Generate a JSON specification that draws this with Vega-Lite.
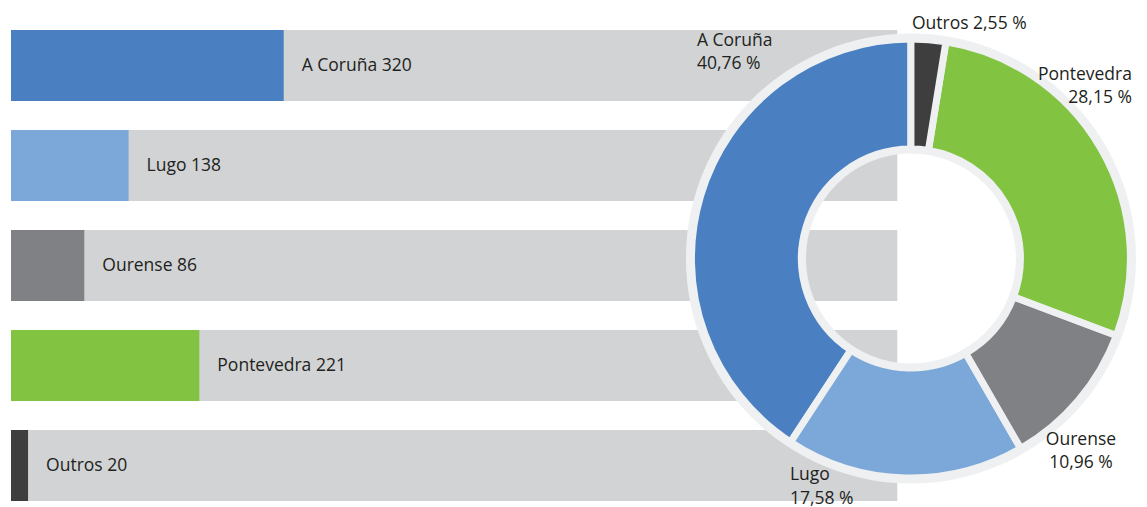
{
  "$schema": "https://vega.github.io/schema/vega-lite/v6.json",
  "width": 1136,
  "height": 471,
  "padding": {"left": 11, "top": 30, "right": 0, "bottom": 6},
  "autosize": {"type": "none"},
  "background": "white",
  "config": {"view": {"stroke": null}, "font": "Open Sans", "text": {"font": "Open Sans", "fontSize": 17.5, "color": "#231f20"}},
  "datasets": {
    "provincias": [
      {"provincia": "A Coruña", "valor": 320, "pct": "40,76 %", "ordem": 5},
      {"provincia": "Lugo", "valor": 138, "pct": "17,58 %", "ordem": 4},
      {"provincia": "Ourense", "valor": 86, "pct": "10,96 %", "ordem": 3},
      {"provincia": "Pontevedra", "valor": 221, "pct": "28,15 %", "ordem": 2},
      {"provincia": "Outros", "valor": 20, "pct": "2,55 %", "ordem": 1}
    ],
    "aro": [{"aro": "fondo"}]
  },
  "data": {"name": "provincias"},
  "layer": [
    {
      "mark": {"type": "bar", "color": "#d1d3d4"},
      "encoding": {
        "x": {"datum": 0, "type": "quantitative", "scale": {"domain": [0, 1333], "nice": false, "zero": true}, "axis": null},
        "x2": {"datum": 1040},
        "y": {"field": "provincia", "type": "nominal", "sort": null, "scale": {"domain": ["A Coruña", "Lugo", "Ourense", "Pontevedra", "Outros"], "paddingInner": 0.29, "paddingOuter": 0}, "axis": null}
      }
    },
    {
      "mark": {"type": "bar"},
      "encoding": {
        "x": {"field": "valor", "type": "quantitative"},
        "y": {"field": "provincia", "type": "nominal", "sort": null},
        "color": {"field": "provincia", "type": "nominal", "scale": {"domain": ["A Coruña", "Lugo", "Ourense", "Pontevedra", "Outros"], "range": ["#4a80c1", "#7ca8d9", "#808184", "#82c341", "#3e3e3e"]}, "legend": null}
      }
    },
    {
      "transform": [{"calculate": "datum.provincia + ' ' + datum.valor", "as": "rotulo"}],
      "mark": {"type": "text", "align": "left", "baseline": "middle", "dx": 18},
      "encoding": {
        "x": {"field": "valor", "type": "quantitative"},
        "y": {"field": "provincia", "type": "nominal", "sort": null},
        "text": {"field": "rotulo"}
      }
    },
    {
      "data": {"name": "aro"},
      "mark": {"type": "arc", "theta": 0, "theta2": 6.2832, "innerRadius": 105, "outerRadius": 225, "fill": "#eef0f2", "yOffset": -7},
      "encoding": {
        "x": {"datum": 1056, "type": "quantitative"},
        "y": {"datum": "Ourense", "type": "nominal"}
      }
    },
    {
      "mark": {"type": "arc", "innerRadius": 109.5, "outerRadius": 219.5, "stroke": "#eef0f2", "strokeWidth": 7, "yOffset": -7},
      "encoding": {
        "x": {"datum": 1056, "type": "quantitative"},
        "y": {"datum": "Ourense", "type": "nominal"},
        "theta": {"field": "valor", "type": "quantitative", "stack": true},
        "order": {"field": "ordem", "type": "quantitative", "sort": "ascending"},
        "color": {"field": "provincia", "type": "nominal"}
      }
    },
    {
      "transform": [{"filter": "datum.provincia === 'Outros'"}, {"calculate": "datum.provincia + ' ' + datum.pct", "as": "rotulo"}],
      "mark": {"type": "text", "align": "left", "baseline": "middle", "dx": 1, "dy": -241.5},
      "encoding": {"x": {"datum": 1056, "type": "quantitative"}, "y": {"datum": "Ourense", "type": "nominal"}, "text": {"field": "rotulo"}}
    },
    {
      "transform": [{"filter": "datum.provincia === 'A Coruña'"}, {"calculate": "[datum.provincia, datum.pct]", "as": "rotulo"}],
      "mark": {"type": "text", "align": "left", "baseline": "middle", "dx": -214, "dy": -224.5, "lineHeight": 23},
      "encoding": {"x": {"datum": 1056, "type": "quantitative"}, "y": {"datum": "Ourense", "type": "nominal"}, "text": {"field": "rotulo"}}
    },
    {
      "transform": [{"filter": "datum.provincia === 'Pontevedra'"}, {"calculate": "[datum.provincia, datum.pct]", "as": "rotulo"}],
      "mark": {"type": "text", "align": "right", "baseline": "middle", "dx": 221, "dy": -190.5, "lineHeight": 23},
      "encoding": {"x": {"datum": 1056, "type": "quantitative"}, "y": {"datum": "Ourense", "type": "nominal"}, "text": {"field": "rotulo"}}
    },
    {
      "transform": [{"filter": "datum.provincia === 'Ourense'"}, {"calculate": "[datum.provincia, datum.pct]", "as": "rotulo"}],
      "mark": {"type": "text", "align": "center", "baseline": "middle", "dx": 170, "dy": 174.5, "lineHeight": 23},
      "encoding": {"x": {"datum": 1056, "type": "quantitative"}, "y": {"datum": "Ourense", "type": "nominal"}, "text": {"field": "rotulo"}}
    },
    {
      "transform": [{"filter": "datum.provincia === 'Lugo'"}, {"calculate": "[datum.provincia, datum.pct]", "as": "rotulo"}],
      "mark": {"type": "text", "align": "left", "baseline": "middle", "dx": -121, "dy": 209, "lineHeight": 24},
      "encoding": {"x": {"datum": 1056, "type": "quantitative"}, "y": {"datum": "Ourense", "type": "nominal"}, "text": {"field": "rotulo"}}
    }
  ]
}
